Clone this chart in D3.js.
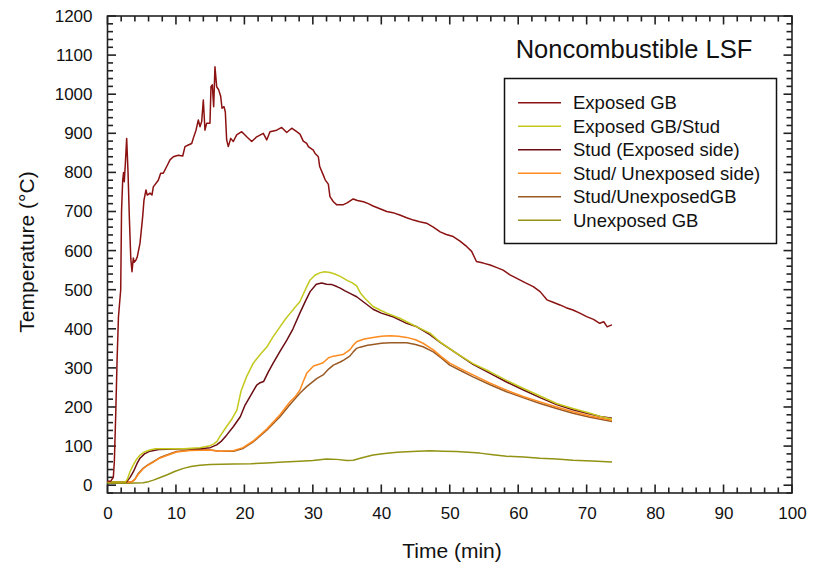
<!DOCTYPE html>
<html>
<head>
<meta charset="utf-8">
<script src="https://cdn.jsdelivr.net/npm/d3@7"></script>
<style>
  body { margin: 0; background: #fff; }
  svg { font-family: "Liberation Sans", Arial, sans-serif; }
</style>
</head>
<body>
<div id="chart"></div>
<script>
// readings [time (min), temperature (°C)]
const exposedGB = [[0,10],[0.5,11],[0.85,20],[1.0,60],[1.2,180],[1.4,320],[1.6,430],[1.93,500],[2.05,700],[2.22,780],[2.35,800],[2.45,776],[2.6,820],[2.8,887],[3.0,800],[3.2,680],[3.4,580],[3.58,546],[3.77,581],[3.9,570],[4.16,576],[4.35,584],[4.75,619],[5.14,687],[5.33,729],[5.62,755],[5.81,742],[6.21,747],[6.5,742],[6.69,763],[7.42,780],[7.77,798],[8.15,798],[8.65,815],[9.13,832],[9.61,840],[10.34,844],[10.99,842],[11.32,866],[11.8,870],[12.3,874],[12.53,887],[12.93,908],[13.27,934],[13.51,917],[13.76,930],[14.0,985],[14.24,908],[14.49,926],[14.97,926],[15.12,1019],[15.31,1024],[15.51,968],[15.7,1070],[15.95,1019],[16.25,1011],[16.54,994],[16.73,964],[17.02,968],[17.21,955],[17.41,883],[17.65,866],[18.0,887],[18.38,879],[18.87,896],[19.61,904],[20.34,891],[21.07,879],[21.8,891],[22.76,900],[23.26,883],[23.74,904],[24.72,908],[25.45,915],[26.18,902],[26.91,913],[27.64,904],[28.12,898],[28.6,880],[29.1,874],[29.34,866],[30.07,857],[30.3,849],[30.8,840],[31.0,815],[31.53,793],[31.8,781],[32.26,770],[32.5,738],[33.0,725],[33.5,717],[34.4,717],[35.0,722],[35.9,732],[36.5,728],[37.4,725],[38.1,720],[38.8,714],[39.8,707],[40.8,700],[41.7,697],[42.7,691],[43.7,684],[44.7,678],[45.6,674],[46.6,670],[47.6,660],[48.6,648],[49.5,641],[50.5,636],[51.5,624],[52.5,610],[53.2,598],[53.9,572],[54.9,568],[55.9,563],[56.8,557],[57.8,550],[58.8,538],[59.8,529],[61.0,518],[62.2,508],[63.2,495],[64.2,474],[65.1,468],[66.1,461],[67.0,454],[68.0,448],[69.0,440],[70.0,431],[71.0,424],[71.9,414],[72.5,418],[73.0,405],[73.4,408],[73.7,410]];

const exposedGBStud = [[0,8],[2.6,8],[2.9,15],[3.3,35],[3.77,52],[4.2,65],[4.75,77],[5.4,85],[6.2,90],[7.0,93],[8.65,93],[11.1,93],[13.5,96],[14.8,100],[15.5,105],[16.0,112],[16.4,124],[17.4,150],[18.2,170],[18.9,192],[19.5,240],[20.3,277],[21.3,312],[22.3,334],[23.3,354],[24.2,380],[25.2,405],[26.0,425],[26.7,440],[27.4,455],[28.1,469],[28.9,500],[29.6,525],[30.3,537],[31.0,543],[31.7,546],[32.5,544],[33.2,540],[34.0,534],[35.0,524],[35.7,518],[36.4,510],[37.0,490],[37.6,478],[38.8,457],[39.8,448],[40.8,440],[42.7,427],[43.7,418],[45.2,405],[47.1,389],[48.6,366],[51.0,337],[53.4,311],[55.9,290],[58.3,268],[60.7,248],[63.2,228],[65.6,209],[68.0,196],[70.5,184],[72.0,176],[73.7,169]];

const studExposedSide = [[0,8],[2.6,8],[2.8,9],[3.3,20],[3.8,35],[4.3,55],[4.75,69],[5.4,80],[6.2,87],[7.5,91],[8.65,92],[11,93],[13.5,93],[15.0,96],[15.95,103],[16.6,112],[17.4,128],[18.4,150],[19.4,175],[20.1,205],[20.8,226],[21.8,256],[22.3,262],[22.8,265],[23.5,290],[24.2,312],[25.2,342],[26.2,371],[27.1,400],[28.1,440],[28.9,470],[29.6,495],[30.5,514],[31.3,517],[32.0,514],[32.8,513],[33.5,508],[34.0,504],[34.7,497],[35.5,490],[36.4,482],[37.6,466],[38.8,450],[40.0,440],[41.8,430],[43.7,414],[45.2,405],[47.1,385],[48.6,365],[51.0,337],[53.4,309],[55.9,286],[58.3,264],[60.7,244],[63.2,224],[65.6,206],[68.0,193],[70.5,182],[72.0,176],[73.7,171]];

const studUnexposedSide = [[0,8],[3.5,8],[4.0,15],[4.5,28],[5.2,42],[5.9,51],[6.7,59],[7.6,69],[8.65,76],[10.1,85],[12.05,89],[15,90],[16.4,87],[18.4,88],[19.8,96],[21.3,113],[23.3,144],[25.2,180],[26.6,212],[27.4,226],[28.1,243],[28.6,265],[29.1,286],[30.1,305],[31.0,310],[31.5,313],[32.3,326],[33.0,330],[34.0,333],[34.5,335],[35.4,346],[35.9,358],[36.4,367],[37.5,374],[38.8,378],[40.0,381],[41.3,382],[42.5,381],[43.7,378],[45.0,372],[46.1,363],[47.6,346],[48.8,328],[50.0,312],[51.7,297],[53.4,282],[55.9,261],[58.3,243],[60.7,227],[63.2,213],[65.6,200],[68.0,188],[70.5,177],[73.7,166]];

const studUnexposedGB = [[0,8],[3.5,8],[4.0,15],[4.5,30],[5.2,43],[5.9,52],[6.7,60],[7.6,70],[8.65,77],[10.1,86],[12.05,90],[15,90],[16.4,87],[18.4,87],[19.8,94],[21.3,111],[23.3,141],[25.2,175],[26.6,205],[28.1,235],[29.1,252],[30.6,273],[31.5,282],[32.3,297],[33.0,307],[34.0,315],[34.5,320],[35.4,330],[35.9,341],[36.4,350],[36.9,353],[38.0,358],[38.8,360],[40.0,363],[41.3,364],[43.7,364],[45.0,360],[46.1,354],[47.6,341],[48.8,325],[50.0,307],[51.7,292],[53.4,277],[55.9,257],[58.3,239],[60.7,224],[63.2,209],[65.6,196],[68.0,184],[70.5,174],[73.7,163]];

const unexposedGB = [[0,5],[3,5],[5.2,6],[6.0,9],[6.7,13],[7.6,19],[8.65,26],[9.8,35],[11.1,43],[12.2,48],[13.5,51],[15,53],[18.4,54],[21,55],[23.3,57],[25.7,59],[28.1,61],[30,63],[32,67],[33.5,66],[35,63],[35.9,64],[37.2,70],[38.8,77],[40.5,81],[42.3,84],[44.5,86],[47.1,88],[49,87],[51,86],[52.7,84],[54.4,82],[56.3,78],[58.3,74],[60.8,72],[63.2,69],[65.6,67],[68,64],[70.8,62],[73.7,59]];

const seriesNames = ["Exposed GB", "Exposed GB/Stud", "Stud (Exposed side)", "Stud/ Unexposed side)", "Stud/UnexposedGB", "Unexposed GB"];
const seriesColors = ["#8c1111", "#c3c81c", "#6b0d12", "#ff8a1e", "#9a5a24", "#929214"];
const seriesData = [exposedGB, exposedGBStud, studExposedSide, studUnexposedSide, studUnexposedGB, unexposedGB];

const xTicks = d3.range(0, 101, 10);
const yTicks = d3.range(0, 1201, 100);
const xMinor = d3.range(0, 101, 2);
const yMinor = d3.range(-20, 1201, 20);

const width = 814, height = 568;
const margin = {top: 16, right: 22, bottom: 75, left: 107.5};

const x = d3.scaleLinear()
    .domain([0, 100])
    .range([margin.left, width - margin.right]);

const y = d3.scaleLinear()
    .domain([-20, 1200])
    .range([height - margin.bottom, margin.top]);

const svg = d3.select("#chart").append("svg")
    .attr("width", width)
    .attr("height", height);

// tick marks point inward on all four sides, majors longer
const ticks = svg.append("g")
    .attr("stroke", "#222")
    .attr("stroke-width", 1.6);

const xLen = v => v % 10 === 0 ? 8.5 : 5.5;
const yLen = v => v % 100 === 0 ? 8.5 : 5.5;

[y(-20), y(1200)].forEach((y0, side) => {
  ticks.append("g").selectAll("line")
    .data(xMinor)
    .join("line")
      .attr("x1", d => x(d))
      .attr("x2", d => x(d))
      .attr("y1", y0)
      .attr("y2", d => side === 0 ? y0 - xLen(d) : y0 + xLen(d));
});

[x(0), x(100)].forEach((x0, side) => {
  ticks.append("g").selectAll("line")
    .data(yMinor)
    .join("line")
      .attr("y1", d => y(d))
      .attr("y2", d => y(d))
      .attr("x1", x0)
      .attr("x2", d => side === 0 ? x0 + yLen(d) : x0 - yLen(d));
});

// tick labels from the axis generators
svg.append("g")
    .attr("class", "x-axis")
    .attr("transform", `translate(0,${y(-20)})`)
    .call(d3.axisBottom(x).tickValues(xTicks).tickSize(0).tickPadding(14).tickFormat(d3.format("d")));
svg.append("g")
    .attr("class", "y-axis")
    .attr("transform", `translate(${x(0)},0)`)
    .call(d3.axisLeft(y).tickValues(yTicks).tickSize(0).tickPadding(15).tickFormat(d3.format("d")));

svg.selectAll(".domain").remove();
svg.selectAll(".tick line").remove();
svg.selectAll(".tick text")
    .attr("font-size", 17)
    .attr("fill", "#111")
    .style("font-family", "'Liberation Sans', Arial, sans-serif");

svg.append("rect")
    .attr("x", x(0))
    .attr("y", y(1200))
    .attr("width", x(100) - x(0))
    .attr("height", y(-20) - y(1200))
    .attr("fill", "none")
    .attr("stroke", "#222")
    .attr("stroke-width", 1.6);

const line = d3.line()
    .x(d => x(d[0]))
    .y(d => y(d[1]));

// draw back to front so the exposed GB trace ends up on top of the low curves
svg.append("g")
    .attr("fill", "none")
    .attr("stroke-width", 1.5)
    .attr("stroke-linejoin", "round")
  .selectAll("path")
  .data(seriesData.map((d, i) => ({d, i})).reverse())
  .join("path")
    .attr("stroke", s => seriesColors[s.i])
    .attr("d", s => line(s.d));

// title
svg.append("text")
    .attr("x", 634)
    .attr("y", 58)
    .attr("text-anchor", "middle")
    .attr("font-size", 25.5)
    .attr("fill", "#111")
    .text("Noncombustible LSF");

// legend
const legend = svg.append("g");
legend.append("rect")
    .attr("x", 504.5)
    .attr("y", 78.5)
    .attr("width", 272)
    .attr("height", 165)
    .attr("fill", "#fff")
    .attr("stroke", "#111")
    .attr("stroke-width", 1.5);

const row = legend.selectAll("g.row")
  .data(seriesNames)
  .join("g")
    .attr("class", "row")
    .attr("transform", (d, i) => `translate(0,${102.7 + i * 23.5})`);
row.append("line")
    .attr("x1", 518)
    .attr("x2", 561)
    .attr("stroke", (d, i) => seriesColors[i])
    .attr("stroke-width", 1.5);
row.append("text")
    .attr("x", 573)
    .attr("dy", "0.35em")
    .attr("font-size", 18.5)
    .attr("fill", "#111")
    .text(d => d);

// axis titles
svg.append("text")
    .attr("x", 452)
    .attr("y", 558)
    .attr("text-anchor", "middle")
    .attr("font-size", 21)
    .attr("fill", "#111")
    .text("Time (min)");

svg.append("text")
    .attr("transform", `translate(34,252) rotate(-90)`)
    .attr("text-anchor", "middle")
    .attr("font-size", 21)
    .attr("fill", "#111")
    .text("Temperature (°C)");
</script>
</body>
</html>
